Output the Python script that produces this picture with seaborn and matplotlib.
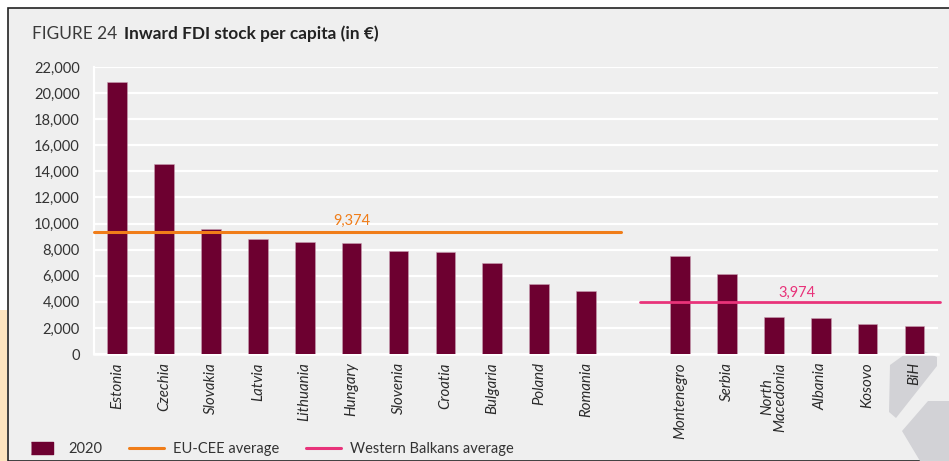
import matplotlib
matplotlib.use("Agg")
import matplotlib.pyplot as plt
import seaborn as sns
import pandas as pd
from matplotlib.lines import Line2D
from matplotlib.patches import Rectangle, Polygon

# ----------------------------------------------------------
# data
# ----------------------------------------------------------
eu_countries = ["Estonia", "Czechia", "Slovakia", "Latvia", "Lithuania", "Hungary",
                "Slovenia", "Croatia", "Bulgaria", "Poland", "Romania"]
eu_values = [20850, 14550, 9600, 8850, 8600, 8500, 7900, 7800, 7000, 5350, 4800]

wb_countries = ["Montenegro", "Serbia", "North\nMacedonia", "Albania", "Kosovo", "BiH"]
wb_values = [7500, 6150, 2820, 2740, 2330, 2180]

eu_avg = 9374
wb_avg = 3974
y_ticks = list(range(0, 22001, 2000))

df = pd.DataFrame({"country": eu_countries + wb_countries,
                   "fdi": eu_values + wb_values})
order = eu_countries + [""] + wb_countries

# ----------------------------------------------------------
# style
# ----------------------------------------------------------
bg = "#efefef"
bar_color = "#6d0030"
orange = "#f07d19"
pink = "#e8337a"
txt = "#333333"
W, H = 949, 461

sns.set_theme(style="white")
plt.rcParams["font.family"] = ["Lato", "DejaVu Sans"]

fig = plt.figure(figsize=(W / 100, H / 100), dpi=100)
fig.patch.set_facecolor("white")


def px(points):
    # pixel coords (top-down) -> figure fraction
    return [(x / W, 1 - y / H) for x, y in points]


# page frame bits
fig.patches.append(Rectangle((8 / W, 0), 1, 1 - 8 / H, transform=fig.transFigure,
                             facecolor=bg, edgecolor="#222222", linewidth=1.2, zorder=-5))
fig.patches.append(Rectangle((0, 0), 7 / W, 151 / H, transform=fig.transFigure,
                             facecolor="#fde4bf", edgecolor="none", zorder=-4))
# grey decoration at bottom right
deco = "#d2d2d6"
fig.patches.append(Polygon(px([(890, 365), (915, 347), (937, 357), (937, 366), (896, 418), (889, 412)]),
                           closed=True, transform=fig.transFigure, facecolor=deco,
                           edgecolor="none", zorder=-3))
fig.patches.append(Polygon(px([(902, 431), (928, 401), (949, 401), (949, 461), (920, 461)]),
                           closed=True, transform=fig.transFigure, facecolor=deco,
                           edgecolor="none", zorder=-3))

ax = fig.add_axes([93.6 / W, 107 / H, 844.4 / W, 287 / H])
ax.set_facecolor("none")

sns.barplot(data=df, x="country", y="fdi", order=order, color=bar_color,
            width=0.42, saturation=1, edgecolor="#c9a0b2", linewidth=0.4, ax=ax, zorder=3)

# averages
ax.plot([-0.5, 10.75], [eu_avg, eu_avg], color=orange, lw=2.2, zorder=4, clip_on=False)
ax.plot([11.15, 17.55], [wb_avg, wb_avg], color=pink, lw=2.0, zorder=4, clip_on=False)
ax.text(5.0, eu_avg + 300, f"{eu_avg:,}", color=orange, fontsize=10.5, ha="center", va="bottom")
ax.text(14.5, wb_avg + 200, f"{wb_avg:,}", color=pink, fontsize=10.5, ha="center", va="bottom")

ax.set_xlim(-0.5, 17.5)
ax.set_ylim(0, 22000)
ax.set_yticks(y_ticks)
ax.set_yticklabels([f"{v:,}" for v in y_ticks], color=txt, fontsize=10.5)
ax.grid(axis="y", color="white", linewidth=1.6, zorder=0)
ax.set_axisbelow(True)

ax.set_xlabel("")
ax.set_ylabel("")
ax.set_xticks(range(len(order)))
ax.set_xticklabels(order, rotation=90, fontstyle="italic", color="#2a2a2a", fontsize=10.8,
                   linespacing=0.9)
ax.tick_params(axis="x", length=0, pad=6)
ax.tick_params(axis="y", length=0, pad=10)
ax.set_xticks([i - 0.5 for i in range(len(order) + 1)], minor=True)
ax.tick_params(axis="x", which="minor", direction="in", length=4, width=1.4, color="white")

for side in ["top", "right"]:
    ax.spines[side].set_visible(False)
ax.spines["bottom"].set_color("white")
ax.spines["bottom"].set_linewidth(1.8)
ax.spines["left"].set_color("white")
ax.spines["left"].set_linewidth(1.6)

# title
fig.text(32 / W, 1 - 34 / H, "FIGURE 24", fontsize=12.4, color="#3a3a3a",
         va="center", ha="left")
fig.text(124 / W, 1 - 34 / H, "Inward FDI stock per capita (in \u20ac)", fontsize=12.4,
         color="#222222", fontweight="bold", va="center", ha="left")

# legend
rect = [(-1, -0.5), (1, -0.5), (1, 0.5), (-1, 0.5)]
handles = [Line2D([0], [0], linestyle="none", marker=rect, markersize=16,
                  color=bar_color, label="2020"),
           Line2D([0], [0], color=orange, lw=2.2, label="EU-CEE average"),
           Line2D([0], [0], color=pink, lw=2.2, label="Western Balkans average")]
fig.legend(handles=handles, loc="center left", bbox_to_anchor=(11 / W, 1 - 449 / H),
           ncol=3, frameon=False, fontsize=10.5, handlelength=2.4,
           columnspacing=1.8, handletextpad=0.65, labelcolor=txt)

plt.savefig("out.png", dpi=100, facecolor=fig.get_facecolor())
